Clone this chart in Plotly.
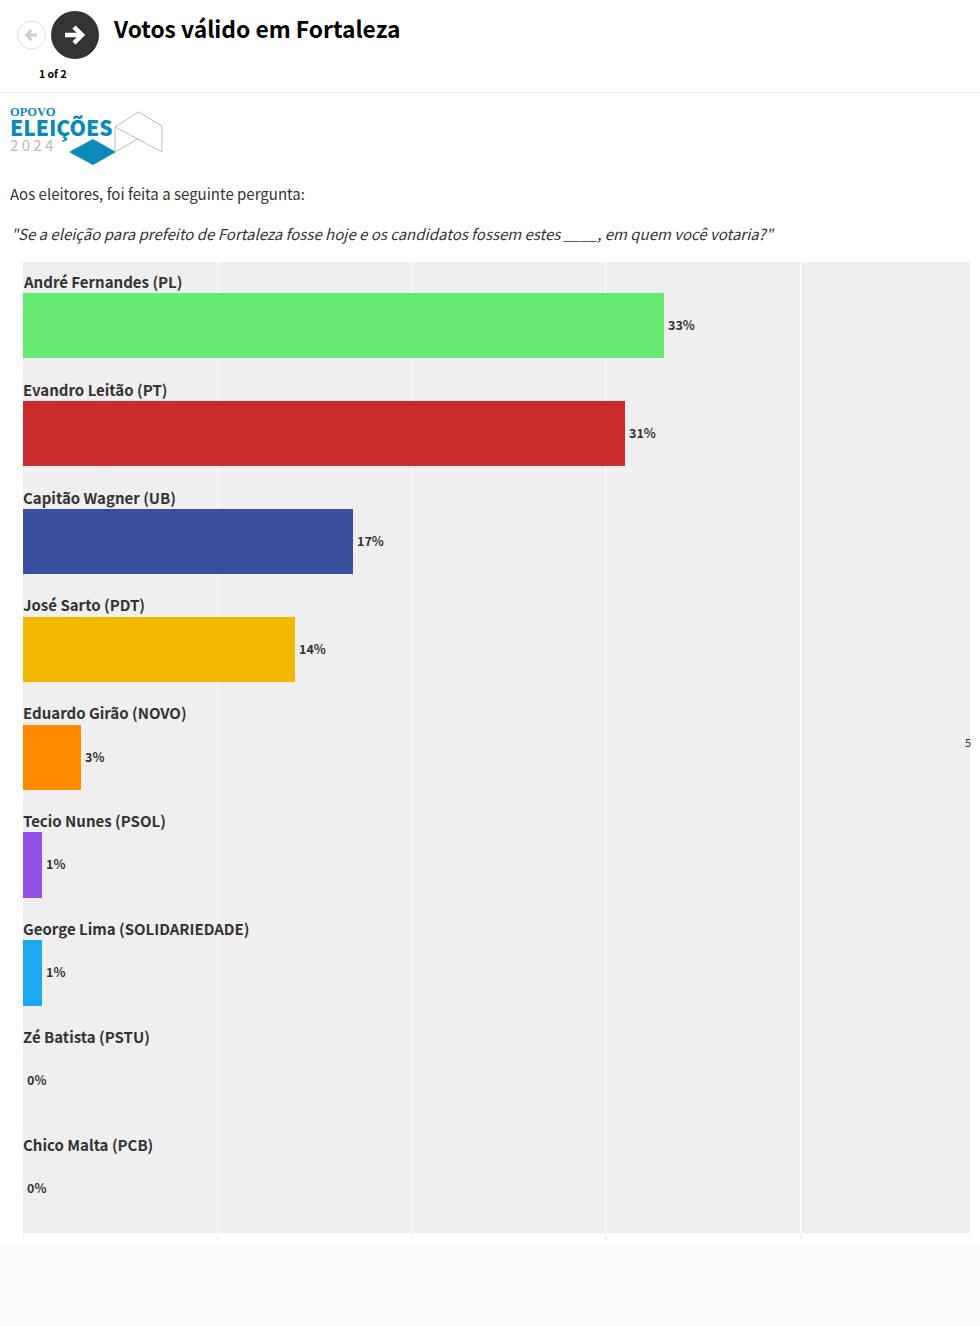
import plotly.graph_objects as go

categories = ["André Fernandes (PL)", "Evandro Leitão (PT)", "Capitão Wagner (UB)", "José Sarto (PDT)",
              "Eduardo Girão (NOVO)", "Tecio Nunes (PSOL)", "George Lima (SOLIDARIEDADE)", "Zé Batista (PSTU)",
              "Chico Malta (PCB)"]
values = [33, 31, 17, 14, 3, 1, 1, 0, 0]
colors = ["#66EA72", "#CB2B2B", "#3A4F9C", "#F2B800", "#FF8A00", "#9452E8", "#1CA9F2", "#999999", "#999999"]
x_ticks = [0, 10, 20, 30, 40]

FONT = "Noto Sans CJK SC"
W, H = 980, 1326
L, R, T, B = 23, 970, 262, 1233
PITCH = (B - T) / 9


def px(x):
    return (x - L) / (R - L)


def py(y):
    return 1 - (y - T) / (B - T)


fig = go.Figure(go.Bar(
    x=values, y=categories, orientation="h",
    marker=dict(color=colors, line_width=0),
    width=0.606, offset=0.102,
    hoverinfo="skip",
))


def shape(**kw):
    fig.add_shape(xref="paper", yref="paper", layer="above", **kw)


def path(points, close=False):
    d = "M" + " L".join(f"{px(a):.5f} {py(b):.5f}" for a, b in points)
    return d + (" Z" if close else "")


def label(x, y, text, size, color="#333333", weight=400, anchor="left", family=FONT):
    fig.add_annotation(xref="paper", yref="paper", x=px(x - (3 if anchor == "left" else 0)), y=py(y), text=text,
                       showarrow=False, xanchor=anchor, yanchor="middle", align="left",
                       font=dict(family=family, size=size, color=color, weight=weight))


# Category names sit above their bars, values to the right of them
for name, value in zip(categories, values):
    fig.add_annotation(xref="x", yref="y", x=0, y=name, text=name, showarrow=False, xanchor="left",
                       yanchor="middle", xshift=-2, yshift=0.7,
                       font=dict(family=FONT, size=15, color="#333333", weight=700))
    fig.add_annotation(xref="x", yref="y", x=value, y=name, text=f"{value}%", showarrow=False, xanchor="left",
                       yanchor="middle", xshift=2, yshift=-42.5,
                       font=dict(family=FONT, size=12.5, color="#333333", weight=700))

# Footer band and header rule
shape(type="rect", x0=px(0), x1=px(W), y0=py(1245), y1=py(H), fillcolor="#F9F9F9", line_width=0)
shape(type="line", x0=px(0), x1=px(W), y0=py(92.5), y1=py(92.5), line=dict(color="#EEEEEE", width=1))

# Navigation buttons
shape(type="circle", x0=px(17.5), x1=px(45.5), y0=py(21), y1=py(49), fillcolor="#FFFFFF", line=dict(color="#DDDDDD", width=1))
shape(type="path", path=path([(37, 35), (27, 35)]), line=dict(color="#CCCCCC", width=3))
shape(type="path", path=path([(31.5, 30), (26.5, 35), (31.5, 40)]), line=dict(color="#CCCCCC", width=3))
shape(type="circle", x0=px(51), x1=px(99), y0=py(11), y1=py(59), fillcolor="#333333", line_width=0)
shape(type="path", path=path([(65, 35), (81, 35)]), line=dict(color="#FFFFFF", width=4.5))
shape(type="path", path=path([(74, 27), (82, 35), (74, 43)]), line=dict(color="#FFFFFF", width=4.5))

# Logo
shape(type="path", path=path([(69, 152), (93, 139), (116, 152), (93, 165)], True), fillcolor="#0A8AB8", line_width=0)
for pts in ([(115, 127), (138.5, 112), (162, 126), (162, 152), (115, 127)],
            [(115, 127), (115, 152), (138.5, 138.5)]):
    shape(type="path", path=path(pts), line=dict(color="#BBBBBB", width=1))
label(10.5, 112, "OPOVO", 12.5, "#0A8AB8", 700, family="Liberation Serif")
label(10.5, 127, "ELEIÇÕES", 21, "#0A8AB8", 900)
label(10.5, 144.5, "2 0 2 4", 15, "#BBBBBB")

# Texts
label(113.5, 28, "Votos válido em Fortaleza", 22.8, "#000000", 700)
label(53, 73.5, "1 of 2", 10.5, "#000000", 700, anchor="center")
label(11, 193.4, "Aos eleitores, foi feita a seguinte pergunta:", 15)
label(12, 233.4, "<i>\"Se a eleição para prefeito de Fortaleza fosse hoje e os candidatos fossem estes ____, em quem você votaria?\"</i>", 15)
label(965.5, 742, "5", 11, "#333333")

fig.update_layout(
    width=W, height=H, autosize=False,
    margin=dict(l=L, r=W - R, t=T, b=H - B, pad=0),
    paper_bgcolor="#FFFFFF", plot_bgcolor="#EFEFEF",
    showlegend=False, bargap=0,
    xaxis=dict(range=[0, (R - L) / 19.43], tickvals=x_ticks, showticklabels=False,
               ticks="outside", ticklen=6, tickcolor="#EEEEEE", tickwidth=1,
               gridcolor="#FFFFFF", gridwidth=1, zeroline=False, showline=False, fixedrange=True),
    yaxis=dict(type="category", categoryorder="array", categoryarray=categories,
               range=[(B - (T + 20)) / PITCH, -20 / PITCH],
               showticklabels=False, ticks="", showgrid=False, zeroline=False, showline=False, fixedrange=True),
)
fig.write_html("out.html", config={"displayModeBar": False},
               post_script="document.body.style.margin='0';document.body.style.background='#F9F9F9';")
